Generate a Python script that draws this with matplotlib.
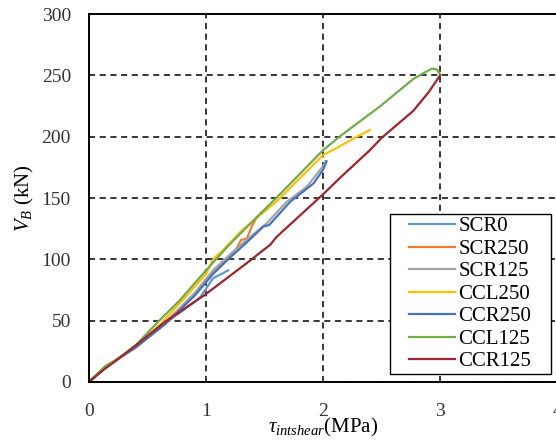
import matplotlib.pyplot as plt
from matplotlib.patches import Rectangle

plt.rcParams['font.family'] = 'Liberation Serif'
plt.rcParams['mathtext.fontset'] = 'custom'
plt.rcParams['mathtext.rm'] = 'Liberation Serif'
plt.rcParams['mathtext.it'] = 'Liberation Serif:italic'

# curves: shear stress (MPa) vs V_B (kN)
scr0_x = [0, 0.14, 0.4, 0.65, 0.8, 0.95, 1.06, 1.19]
scr0_y = [0, 12, 29, 48, 58, 69, 84.5, 91]

scr250_x = [0, 0.14, 0.4, 0.65, 0.9, 1.06, 1.2, 1.26, 1.3, 1.35, 1.39, 1.43]
scr250_y = [0, 12, 29, 48, 72, 90, 102, 109, 115.8, 117, 126.7, 133.5]

scr125_x = [0, 0.14, 0.4, 0.65, 0.9, 1.06, 1.2, 1.35, 1.52, 1.69, 1.86, 2.0, 2.02]
scr125_y = [0, 12, 29, 48, 72, 91, 103.5, 116, 129.5, 147, 159, 176, 180]

ccl250_x = [0, 0.14, 0.4, 0.62, 0.85, 1.0, 1.05, 1.08, 1.13, 1.3, 1.6, 1.8, 2.0, 2.14, 2.27, 2.4]
ccl250_y = [0, 12, 29, 48, 72, 88, 98, 102, 106, 123, 147, 166, 185, 192, 199, 205.5]

ccr250_x = [0, 0.14, 0.4, 0.65, 0.9, 1.06, 1.2, 1.35, 1.49, 1.54, 1.72, 1.92, 2.0, 2.03]
ccr250_y = [0, 12, 28, 47, 70, 88, 101, 114, 126.7, 128, 147, 162, 173, 180]

ccl125_x = [0, 0.14, 0.25, 0.4, 0.59, 0.78, 1.0, 1.2, 1.45, 1.6, 2.0, 2.14, 2.49, 2.77, 2.88, 2.93, 2.97, 3.0]
ccl125_y = [0, 13, 19, 30, 49, 67, 91, 112, 136, 150, 189, 200, 225, 247, 253, 255.5, 255, 251]

ccr125_x = [0, 0.14, 0.22, 0.39, 0.65, 0.99, 1.35, 1.55, 1.6, 2.0, 2.14, 2.4, 2.5, 2.77, 2.9, 3.0]
ccr125_y = [0, 11, 16.5, 29, 49, 71, 97, 112, 118, 153, 166, 189, 199, 221, 236, 250]

series = [
    ('SCR0', scr0_x, scr0_y, '#5B9BD5'),
    ('SCR250', scr250_x, scr250_y, '#ED7D31'),
    ('SCR125', scr125_x, scr125_y, '#A5A5A5'),
    ('CCL250', ccl250_x, ccl250_y, '#FFC000'),
    ('CCR250', ccr250_x, ccr250_y, '#4472C4'),
    ('CCL125', ccl125_x, ccl125_y, '#70AD47'),
    ('CCR125', ccr125_x, ccr125_y, '#A1232B'),
]

fig = plt.figure(figsize=(5.56, 4.41), dpi=100)
ax = fig.add_axes([0.160, 0.134, 0.842, 0.834])

for name, xs, ys, c in series:
    ax.plot(xs, ys, color=c, lw=1.6, label=name)

ax.set_xlim(0, 4)
ax.set_ylim(0, 300)
ax.set_xticks([0, 1, 2, 3, 4])
ax.set_yticks(range(0, 301, 50))
ax.grid(True, color='black', ls=(0, (4, 3)), lw=1.1)
ax.set_axisbelow(True)
ax.tick_params(length=0, labelsize=14, colors='#333333')
ax.tick_params(axis='x', pad=15)
ax.tick_params(axis='y', pad=13)
for s in ax.spines.values():
    s.set_linewidth(1.4)

ax.set_xlabel(r'$\tau_{intshear}$(MPa)', fontsize=15, labelpad=-3)
ax.set_ylabel(r'$V_B$ (kN)', fontsize=15, labelpad=4)

# legend box drawn separately so it can be wider than the entries
box = Rectangle((0.643, 0.0215), 0.344, 0.435, transform=ax.transAxes,
                facecolor='white', edgecolor='black', lw=1.0, zorder=4)
ax.add_patch(box)
leg = ax.legend(loc='center left', bbox_to_anchor=(0.684, 0.239), borderaxespad=0,
                fontsize=15, handlelength=2.2, labelspacing=0.14, handletextpad=0.15,
                frameon=False, borderpad=0)
leg.set_zorder(5)

fig.savefig('out.png', dpi=100)
